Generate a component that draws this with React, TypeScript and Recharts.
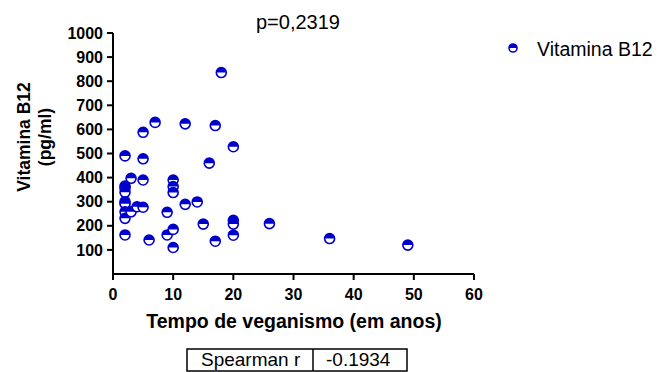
import { ScatterChart, Scatter, XAxis, YAxis } from "recharts";

const FONT = "'Liberation Sans', Arial, sans-serif";
const BLUE = "#0000CC";

const yearsVegan = [
  2, 5, 16, 20, 3, 5, 10, 10, 10, 2, 2, 2, 2, 2, 2, 2, 2, 3, 4, 5, 9, 12, 14, 6, 9,
  10, 10, 15, 17, 20, 20, 20, 26, 5, 7, 12, 17, 18, 36, 49,
];
const b12Values = [
  490, 478, 460, 528, 397, 390, 390, 363, 338, 365, 356, 339, 300, 292, 258, 231, 162,
  258, 279, 277, 256, 289, 299, 141, 162, 185, 110, 207, 136, 223, 207, 161, 209, 588,
  629, 623, 616, 836, 147, 120,
];
const xTicks = [0, 10, 20, 30, 40, 50, 60];
const yTicks = [100, 200, 300, 400, 500, 600, 700, 800, 900, 1000];

const points = yearsVegan.map((x, i) => ({ x, y: b12Values[i] }));

function HalfDot({ cx, cy, r = 5 }: { cx?: number; cy?: number; r?: number }) {
  if (cx == null || cy == null) return null;
  return (
    <g>
      <circle cx={cx} cy={cy} r={r} fill="#fff" stroke={BLUE} strokeWidth={1.6} />
      <path d={`M${cx - r},${cy} A${r},${r} 0 0 1 ${cx + r},${cy} Z`} fill={BLUE} />
    </g>
  );
}

const YTitle = () => (
  <text
    transform="translate(30,137) rotate(-90)"
    textAnchor="middle"
    fontFamily={FONT}
    fontWeight="bold"
    fontSize={17.5}
    fill="#000"
  >
    <tspan x={0} dy={0}>Vitamina B12</tspan>
    <tspan x={0} dy={21}>(pg/ml)</tspan>
  </text>
);

const XTitle = () => (
  <text x={294} y={328} textAnchor="middle" fontFamily={FONT} fontWeight="bold" fontSize={19.5} fill="#000">
    Tempo de veganismo (em anos)
  </text>
);

const tickStyle = { fontFamily: FONT, fontWeight: "bold", fontSize: 16, fill: "#000" };

export default function App() {
  return (
    <div style={{ position: "absolute", left: 0, top: 0, width: 660, height: 372, background: "#fff" }}>
      <ScatterChart
        width={660}
        height={372}
        margin={{ top: 33, right: 186, bottom: 38, left: 53 }}
      >
        <XAxis
          type="number"
          dataKey="x"
          domain={[0, 60]}
          ticks={xTicks}
          height={60}
          stroke="#000"
          strokeWidth={2}
          tickSize={6}
          tickMargin={9}
          tick={tickStyle}
          allowDataOverflow
          label={{ content: () => <XTitle /> }}
        />
        <YAxis
          type="number"
          dataKey="y"
          domain={[0, 1000]}
          ticks={yTicks}
          width={60}
          stroke="#000"
          strokeWidth={2}
          tickSize={6}
          tickMargin={4}
          tick={tickStyle}
          allowDataOverflow
          label={{ content: () => <YTitle /> }}
        />
        <Scatter data={points} fill={BLUE} shape={<HalfDot />} isAnimationActive={false} />
      </ScatterChart>
      <svg width={660} height={372} style={{ position: "absolute", left: 0, top: 0, pointerEvents: "none" }}>
        <text x={298} y={29} textAnchor="middle" fontFamily={FONT} fontSize={20} fill="#000">
          p=0,2319
        </text>
        <HalfDot cx={513} cy={48} r={4} />
        <text x={537} y={56} fontFamily={FONT} fontSize={19.5} fill="#000">
          Vitamina B12
        </text>
        <rect x={187} y={349} width={220} height={22} fill="none" stroke="#000" strokeWidth={1.5} />
        <line x1={313} y1={349} x2={313} y2={371} stroke="#000" strokeWidth={1.5} />
        <text x={201} y={366} fontFamily={FONT} fontSize={19} fill="#000">
          Spearman r
        </text>
        <text x={326} y={366} fontFamily={FONT} fontSize={19} fill="#000">
          -0.1934
        </text>
      </svg>
    </div>
  );
}
